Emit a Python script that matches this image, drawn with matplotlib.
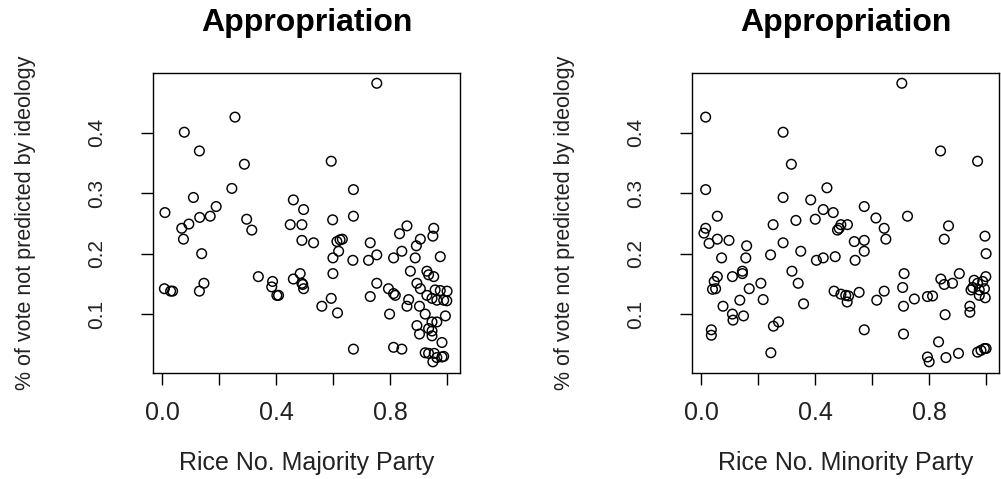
import matplotlib
matplotlib.use("Agg")
import matplotlib.pyplot as plt
from matplotlib import font_manager

# Rice number of the majority party vs share of vote not predicted by ideology
maj_rice = [0.753, 0.255, 0.077, 0.130, 0.288, 0.593, 0.244, 0.671, 0.109, 0.189,
            0.009, 0.460, 0.496, 0.131, 0.168, 0.296, 0.093, 0.068, 0.314, 0.449,
            0.490, 0.598, 0.671, 0.074, 0.490, 0.531, 0.613, 0.624, 0.632, 0.730,
            0.859, 0.833, 0.953, 0.950, 0.906, 0.892, 0.138, 0.619, 0.599, 0.669,
            0.724, 0.753, 0.812, 0.841, 0.888, 0.976, 0.337, 0.387, 0.384, 0.402,
            0.408, 0.484, 0.460, 0.490, 0.496, 0.493, 0.599, 0.146, 0.130, 0.007,
            0.029, 0.036, 0.593, 0.560, 0.615, 0.730, 0.753, 0.794, 0.812, 0.818,
            0.798, 0.871, 0.929, 0.935, 0.894, 0.953, 0.906, 0.958, 0.976, 1.000,
            0.929, 0.947, 0.964, 0.988, 0.999, 0.865, 0.859, 0.903, 0.923, 0.994,
            0.964, 0.947, 0.894, 0.903, 0.947, 0.935, 0.947, 0.982, 0.671, 0.812,
            0.841, 0.923, 0.935, 0.955, 0.964, 0.950, 0.982, 0.988]
maj_vote = [0.482, 0.426, 0.401, 0.370, 0.348, 0.353, 0.308, 0.306, 0.293, 0.278,
            0.268, 0.289, 0.273, 0.260, 0.262, 0.257, 0.249, 0.242, 0.239, 0.248,
            0.248, 0.256, 0.262, 0.224, 0.222, 0.218, 0.220, 0.223, 0.224, 0.218,
            0.246, 0.233, 0.242, 0.229, 0.224, 0.213, 0.200, 0.204, 0.193, 0.189,
            0.189, 0.198, 0.193, 0.204, 0.193, 0.195, 0.162, 0.154, 0.145, 0.131,
            0.131, 0.167, 0.158, 0.151, 0.142, 0.149, 0.167, 0.151, 0.138, 0.142,
            0.138, 0.138, 0.126, 0.113, 0.102, 0.129, 0.151, 0.142, 0.134, 0.131,
            0.100, 0.171, 0.171, 0.165, 0.151, 0.162, 0.142, 0.140, 0.139, 0.138,
            0.131, 0.126, 0.123, 0.123, 0.122, 0.124, 0.113, 0.113, 0.100, 0.097,
            0.087, 0.087, 0.081, 0.067, 0.072, 0.076, 0.064, 0.053, 0.042, 0.045,
            0.042, 0.036, 0.035, 0.035, 0.028, 0.021, 0.029, 0.030]

# Rice number of the minority party vs the same share
min_rice = [0.704, 0.015, 0.287, 0.840, 0.316, 0.970, 0.015, 0.441, 0.287, 0.384,
            0.428, 0.463, 0.572, 0.056, 0.332, 0.400, 0.613, 0.724, 0.015, 0.009,
            0.252, 0.490, 0.513, 0.478, 0.484, 0.642, 0.868, 0.996, 0.056, 0.027,
            0.097, 0.159, 0.287, 0.537, 0.572, 0.648, 0.853, 0.349, 0.572, 0.540,
            0.404, 0.428, 0.470, 0.243, 0.071, 0.156, 1.000, 0.144, 0.144, 0.318,
            0.056, 0.109, 0.045, 0.039, 0.050, 0.209, 0.168, 0.340, 0.712, 0.841,
            0.853, 0.882, 0.906, 0.958, 0.970, 0.988, 0.999, 0.947, 0.976, 0.994,
            0.976, 0.997, 0.466, 0.490, 0.507, 0.517, 0.554, 0.642, 0.707, 0.748,
            0.794, 0.812, 0.512, 0.616, 0.710, 0.217, 0.135, 0.076, 0.359, 0.109,
            0.111, 0.148, 0.035, 0.035, 0.253, 0.271, 0.572, 0.710, 0.943, 0.943,
            0.856, 0.833, 0.244, 0.794, 0.800, 0.859, 0.903, 0.970, 0.982, 0.994,
            1.000, 0.953]
min_vote = [0.482, 0.426, 0.401, 0.370, 0.348, 0.353, 0.306, 0.309, 0.293, 0.289,
            0.273, 0.268, 0.278, 0.262, 0.255, 0.257, 0.259, 0.262, 0.242, 0.234,
            0.248, 0.248, 0.248, 0.239, 0.242, 0.242, 0.246, 0.229, 0.224, 0.217,
            0.222, 0.213, 0.218, 0.220, 0.222, 0.224, 0.224, 0.204, 0.204, 0.189,
            0.189, 0.193, 0.195, 0.198, 0.193, 0.193, 0.200, 0.171, 0.167, 0.171,
            0.162, 0.162, 0.154, 0.141, 0.142, 0.151, 0.142, 0.151, 0.167, 0.158,
            0.149, 0.151, 0.167, 0.156, 0.151, 0.154, 0.162, 0.140, 0.140, 0.142,
            0.131, 0.127, 0.138, 0.133, 0.131, 0.130, 0.136, 0.138, 0.144, 0.125,
            0.129, 0.130, 0.120, 0.123, 0.113, 0.124, 0.123, 0.113, 0.117, 0.100,
            0.090, 0.097, 0.074, 0.065, 0.080, 0.087, 0.074, 0.067, 0.113, 0.103,
            0.099, 0.054, 0.036, 0.029, 0.021, 0.028, 0.035, 0.037, 0.040, 0.043,
            0.043, 0.144]

x_ticks = [0.0, 0.2, 0.4, 0.6, 0.8, 1.0]
x_labels = ["0.0", "", "0.4", "", "0.8", ""]
y_ticks = [0.1, 0.2, 0.3, 0.4]
y_labels = ["0.1", "0.2", "0.3", "0.4"]


# narrow face for rotated text if it is installed
def has_font(name):
    try:
        font_manager.findfont(font_manager.FontProperties(family=name), fallback_to_default=False)
        return True
    except Exception:
        return False


plt.rcParams['font.family'] = ['Liberation Sans', 'DejaVu Sans']
if has_font('Liberation Sans Narrow'):
    narrow, ylab_size, ytick_size = 'Liberation Sans Narrow', 18.5, 17
else:
    narrow, ylab_size, ytick_size = 'Liberation Sans', 15.5, 15

ink = '#222222'
W, H = 1001, 479
fig = plt.figure(figsize=(W / 100, H / 100), dpi=100)

panels = [
    (152.7, maj_rice, maj_vote, "Rice No. Majority Party"),
    (691.7, min_rice, min_vote, "Rice No. Minority Party"),
]

for left_px, xs, ys, xlab in panels:
    ax = fig.add_axes([left_px / W, 1 - 372.7 / H, 307.5 / W, 300 / H])
    ax.scatter(xs, ys, s=48, facecolors='none', edgecolors='black', linewidths=1.05)
    ax.set_xlim(-0.034, 1.046)
    ax.set_ylim(0.003, 0.4995)

    for sp in ax.spines.values():
        sp.set_linewidth(1.0)
        sp.set_color('black')

    ax.set_xticks(x_ticks)
    ax.set_xticklabels(x_labels, fontsize=18, color=ink, va='center')
    ax.set_yticks(y_ticks)
    ax.set_yticklabels(y_labels, fontsize=ytick_size, color=ink, rotation=90,
                       va='center', ha='center', family=[narrow, 'DejaVu Sans'])
    ax.tick_params(axis='x', length=8.6, width=1.0, pad=20.4)
    ax.tick_params(axis='y', length=8.6, width=1.0, pad=31.7)

    ax.set_xlabel(xlab, fontsize=18, color=ink, va='center')
    ax.xaxis.set_label_coords(0.5, -0.301)
    ax.set_ylabel("% of vote not predicted by ideology", fontsize=ylab_size, color=ink,
                  va='center', ha='center', family=[narrow, 'DejaVu Sans'])
    ax.yaxis.set_label_coords(-0.415, 0.5)

    fig.text((left_px + 153.7) / W, 1 - 23 / H, "Appropriation", fontsize=23,
             fontweight='bold', color='black', ha='center', va='center')

fig.savefig("out.png", dpi=100)
